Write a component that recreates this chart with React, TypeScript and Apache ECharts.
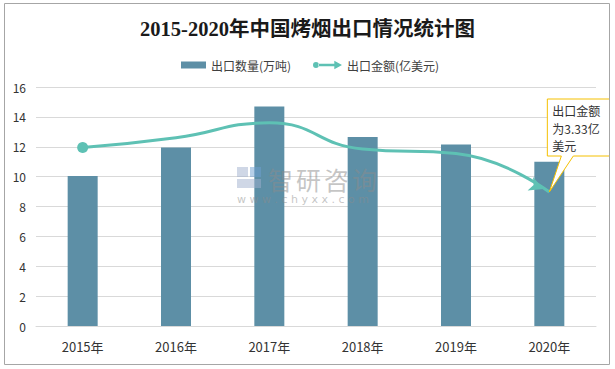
import React, { useEffect, useRef } from "react";
import * as echarts from "echarts";

const categories = ["2015年", "2016年", "2017年", "2018年", "2019年", "2020年"];
const volumeValues = [10.05, 11.95, 14.7, 12.65, 12.15, 11.0];
const valueLine = [11.95, 12.6, 13.6, 11.85, 11.55, 8.97];
const yTicks = { min: 0, max: 16, interval: 2 };
const titleText = "2015-2020年中国烤烟出口情况统计图";
const legendNames = ["出口数量(万吨)", "出口金额(亿美元)"];
const calloutText = "出口金额\n为3.33亿\n美元";
const watermarkChars = ["智", "研", "咨", "询"];
const watermarkUrl = "w w w . c h y x x . c o m";

const BAR_COLOR = "#5d8fa6";
const LINE_COLOR = "#5ec1b4";

export default function App() {
  const ref = useRef<HTMLDivElement>(null);
  useEffect(() => {
    document.body.style.margin = "0";
    const chart = echarts.init(ref.current!, null, { renderer: "svg" });
    const lastIdx = valueLine.length - 1;
    const lineData = valueLine.map((v, i) => {
      if (i === 0) return { value: v, symbol: "circle", symbolSize: 11 };
      if (i === lastIdx)
        return {
          value: v,
          symbol: "arrow",
          symbolSize: [11, 14],
          symbolRotate: -112,
          symbolOffset: [-6, -3],
        };
      return { value: v, symbol: "none" };
    });
    const legendText = { fontSize: 12, color: "#404040", fontFamily: "'Noto Sans CJK SC', sans-serif" };
    chart.setOption({
      animation: false,
      backgroundColor: "#fff",
      title: {
        text: titleText,
        left: "center",
        top: 14,
        textStyle: {
          fontFamily: "'Liberation Serif', 'Noto Sans CJK SC', serif",
          fontSize: 20.5,
          fontWeight: "bold",
          color: "#1a1a1a",
        },
      },
      legend: [
        {
          left: 176,
          top: 54,
          itemWidth: 25,
          itemHeight: 7,
          itemGap: 4,
          textStyle: legendText,
          data: [{ name: legendNames[0], icon: "rect" }],
        },
        {
          left: 308,
          top: 54,
          itemWidth: 29,
          itemHeight: 10,
          itemGap: 4,
          textStyle: legendText,
          data: [
            {
              name: legendNames[1],
              icon: "path://M1 10 A5 5 0 1 0 11 10 A5 5 0 1 0 1 10 Z M10 8 L40 8 L40 12 L10 12 Z M37 3 L50 10 L37 17 Z",
            },
          ],
        },
      ],
      grid: { left: 36, right: 19, top: 87, bottom: 43 },
      xAxis: {
        type: "category",
        data: categories,
        axisLine: { lineStyle: { color: "#d9d9d9" } },
        axisTick: { show: false },
        axisLabel: {
          fontSize: 13,
          color: "#333",
          margin: 14,
          fontFamily: "'Noto Sans CJK SC', sans-serif",
        },
      },
      yAxis: {
        type: "value",
        min: yTicks.min,
        max: yTicks.max,
        interval: yTicks.interval,
        axisLine: { show: false },
        axisTick: { show: false },
        splitLine: { lineStyle: { color: "#d9d9d9" } },
        axisLabel: { fontSize: 12, color: "#333", margin: 10, fontFamily: "'Noto Sans CJK SC', sans-serif" },
      },
      series: [
        {
          name: legendNames[0],
          type: "bar",
          data: volumeValues,
          barWidth: 30,
          itemStyle: { color: BAR_COLOR },
        },
        {
          name: legendNames[1],
          type: "line",
          data: lineData,
          smooth: 0.5,
          z: 5,
          lineStyle: { color: LINE_COLOR, width: 3 },
          itemStyle: { color: LINE_COLOR },
        },
      ],
    });

    const tip = chart.convertToPixel({ seriesIndex: 1 }, [lastIdx, valueLine[lastIdx]]) as number[];
    const tx = tip[0];
    const ty = tip[1];
    const bl = tx - 2;
    const bt = ty - 93;
    const bb = ty - 36;
    const br = bl + 70;
    const wmFill = "rgba(140,140,140,0.5)";
    chart.setOption({
      graphic: [
        {
          type: "group",
          silent: true,
          z: 50,
          children: [
            {
              type: "rect",
              z: 50,
              shape: { x: 237, y: 167, width: 11, height: 10 },
              style: { fill: "rgba(160,175,205,0.5)" },
            },
            {
              type: "rect",
              z: 50,
              shape: { x: 250, y: 167, width: 11, height: 10 },
              style: { fill: "rgba(110,160,210,0.5)" },
            },
            {
              type: "rect",
              z: 50,
              shape: { x: 237, y: 179, width: 24, height: 9 },
              style: { fill: "rgba(160,175,205,0.5)" },
            },
            ...watermarkChars.map((ch, i) => ({
              type: "text",
              z: 50,
              x: 268 + i * 28,
              y: 166,
              style: {
                text: ch,
                font: "25px 'Noto Sans CJK SC', sans-serif",
                fill: wmFill,
                lineHeight: 25,
              },
            })),
            {
              type: "text",
              z: 50,
              x: 237,
              y: 194,
              style: {
                text: watermarkUrl,
                font: "11px 'DejaVu Sans', sans-serif",
                fill: wmFill,
                lineHeight: 11,
              },
            },
          ],
        },
        {
          type: "polygon",
          z: 100,
          shape: {
            points: [
              [bl, bt],
              [br, bt],
              [br, bb],
              [bl + 26, bb],
              [tx, ty],
              [bl + 14, bb],
              [bl, bb],
            ],
          },
          style: { fill: "#fff", stroke: "#f5c000", lineWidth: 1 },
        },
        {
          type: "text",
          z: 101,
          x: bl + 5,
          y: bt + 3,
          style: {
            text: calloutText,
            font: "12px 'Noto Sans CJK SC', sans-serif",
            fill: "#333",
            lineHeight: 17.5,
          },
        },
        {
          type: "rect",
          z: 102,
          shape: { x: 4.5, y: 3.5, width: 605, height: 361 },
          style: { fill: "none", stroke: "#a6a6a6", lineWidth: 1 },
        },
        {
          type: "rect",
          z: 102,
          shape: { x: 610, y: 0, width: 5, height: 369 },
          style: { fill: "#fff" },
        },
      ],
    });
    return () => chart.dispose();
  }, []);
  return <div ref={ref} style={{ width: 615, height: 369 }} />;
}
